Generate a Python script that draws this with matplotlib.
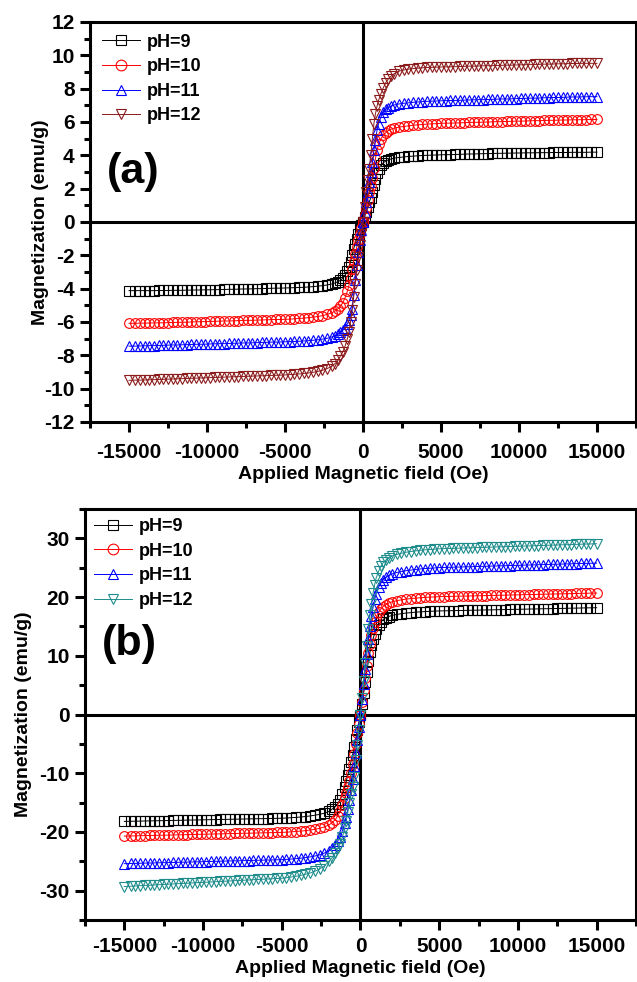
import matplotlib
matplotlib.use('Agg')
import matplotlib.pyplot as plt
from matplotlib.ticker import MultipleLocator

plt.rcParams['font.family'] = ['Liberation Sans', 'DejaVu Sans']
plt.rcParams['font.weight'] = 'bold'
plt.rcParams['axes.unicode_minus'] = False

# ---------------- data ----------------
LABELS = ['pH=9', 'pH=10', 'pH=11', 'pH=12']

H_POS = [0, 100, 200, 300, 400, 500, 600, 700, 800, 900, 1000, 1150, 1300, 1450, 1600,
         1800, 2000, 2300, 2600, 2900, 3200, 3500, 3800, 4100, 4400, 4700, 5000,
         5300, 5600, 5900, 6200, 6500, 6800, 7100, 7400, 7700, 8000, 8300, 8600, 8900,
         9200, 9500, 9800, 10100, 10400, 10700, 11000, 11300, 11600, 11900, 12200, 12500,
         12800, 13100, 13400, 13700, 14000, 14300, 14600, 15000]
H_NEG = [0, -100, -200, -300, -400, -500, -600, -700, -800, -900, -1000, -1150, -1300, -1450, -1600,
         -1800, -2000, -2300, -2600, -2900, -3200, -3500, -3800, -4100, -4400, -4700, -5000,
         -5300, -5600, -5900, -6200, -6500, -6800, -7100, -7400, -7700, -8000, -8300, -8600, -8900,
         -9200, -9500, -9800, -10100, -10400, -10700, -11000, -11300, -11600, -11900, -12200, -12500,
         -12800, -13100, -13400, -13700, -14000, -14300, -14600, -15000]

# panel (a) positive branch
A_PH9_POS = [0.0, 0.3, 0.6, 0.9, 1.2, 1.45, 1.8, 2.2, 2.6, 2.95, 3.2, 3.4, 3.55, 3.65, 3.72, 3.78, 3.83,
             3.87, 3.9, 3.93, 3.95, 3.97, 3.99, 4.0, 4.01, 4.02, 4.03,
             4.04, 4.04, 4.05, 4.06, 4.07, 4.08, 4.08, 4.09, 4.10, 4.10, 4.11, 4.12, 4.12, 4.13, 4.13,
             4.14, 4.14, 4.15, 4.15, 4.15, 4.16, 4.16, 4.16, 4.17, 4.17, 4.17, 4.17, 4.18, 4.18, 4.18,
             4.18, 4.19, 4.19]
A_PH10_POS = [0.0, 0.43, 0.86, 1.29, 1.78, 2.15, 2.64, 3.26, 3.81, 4.31, 4.67, 4.98, 5.23, 5.35, 5.47,
              5.57, 5.63, 5.69, 5.73, 5.77, 5.80, 5.83, 5.85, 5.87, 5.89, 5.90, 5.92,
              5.93, 5.93, 5.94, 5.95, 5.96, 5.97, 5.98, 5.98, 5.99, 6.00, 6.01, 6.02, 6.02, 6.03, 6.04,
              6.05, 6.05, 6.06, 6.07, 6.08, 6.08, 6.09, 6.10, 6.10, 6.11, 6.12, 6.12, 6.13, 6.13, 6.14,
              6.14, 6.15, 6.15]
A_PH11_POS = [0.0, 0.6, 1.2, 1.8, 2.4, 3.0, 3.6, 4.3, 4.9, 5.5, 5.9, 6.3, 6.6, 6.75, 6.85, 6.95, 7.02,
              7.08, 7.12, 7.15, 7.18, 7.2, 7.22, 7.24, 7.25, 7.26, 7.27,
              7.28, 7.29, 7.29, 7.30, 7.31, 7.32, 7.33, 7.34, 7.34, 7.35, 7.36, 7.37, 7.38, 7.38, 7.39,
              7.40, 7.41, 7.42, 7.43, 7.43, 7.44, 7.45, 7.46, 7.47, 7.47, 7.48, 7.49, 7.50, 7.50, 7.51,
              7.51, 7.52, 7.52]
A_PH12_POS = [0.0, 0.9, 1.8, 2.5, 3.2, 4.0, 5.0, 5.9, 6.5, 6.95, 7.3, 7.7, 8.05, 8.35, 8.55, 8.75, 8.9,
              9.05, 9.12, 9.17, 9.2, 9.23, 9.25, 9.27, 9.28, 9.29, 9.3,
              9.31, 9.31, 9.32, 9.33, 9.34, 9.35, 9.35, 9.36, 9.37, 9.38, 9.38, 9.39, 9.40, 9.41, 9.41,
              9.42, 9.43, 9.44, 9.44, 9.45, 9.46, 9.47, 9.47, 9.48, 9.49, 9.49, 9.50, 9.51, 9.51, 9.52,
              9.52, 9.52, 9.52]
# panel (a) negative branch
A_PH9_NEG = [0.0, -0.2, -0.45, -0.7, -1.0, -1.3, -1.6, -2.0, -2.4, -2.7, -2.95, -3.2, -3.38, -3.5, -3.58,
             -3.66, -3.72, -3.78, -3.82, -3.85, -3.88, -3.9, -3.92, -3.93, -3.94, -3.95, -3.96,
             -3.97, -3.97, -3.98, -3.99, -4.00, -4.00, -4.01, -4.02, -4.02, -4.03, -4.04, -4.04, -4.05,
             -4.06, -4.06, -4.07, -4.07, -4.08, -4.08, -4.09, -4.09, -4.10, -4.10, -4.10, -4.11, -4.11,
             -4.11, -4.12, -4.12, -4.12, -4.12, -4.12, -4.12]
A_PH10_NEG = [0.0, -0.35, -0.7, -1.1, -1.5, -1.9, -2.35, -2.85, -3.35, -3.8, -4.15, -4.55, -4.85, -5.05,
              -5.2, -5.35, -5.45, -5.55, -5.62, -5.67, -5.71, -5.74, -5.77, -5.79, -5.81, -5.83, -5.84,
              -5.85, -5.85, -5.86, -5.87, -5.88, -5.89, -5.90, -5.90, -5.91, -5.92, -5.93, -5.94, -5.94,
              -5.95, -5.96, -5.97, -5.98, -5.98, -5.99, -6.00, -6.01, -6.02, -6.02, -6.03, -6.04, -6.05,
              -6.05, -6.06, -6.06, -6.07, -6.07, -6.08, -6.08]
A_PH11_NEG = [0.0, -0.5, -1.1, -1.8, -2.6, -3.5, -4.4, -5.2, -5.6, -5.9, -6.1, -6.35, -6.5, -6.62, -6.72,
              -6.82, -6.9, -6.98, -7.03, -7.07, -7.1, -7.12, -7.14, -7.16, -7.17, -7.18, -7.19,
              -7.20, -7.21, -7.21, -7.22, -7.23, -7.24, -7.25, -7.26, -7.26, -7.27, -7.28, -7.29, -7.30,
              -7.30, -7.31, -7.32, -7.33, -7.34, -7.34, -7.35, -7.36, -7.37, -7.38, -7.38, -7.39, -7.40,
              -7.41, -7.42, -7.42, -7.43, -7.44, -7.45, -7.45]
A_PH12_NEG = [0.0, -0.7, -1.4, -2.1, -2.9, -3.7, -4.5, -5.3, -6.0, -6.6, -7.0, -7.45, -7.8, -8.05, -8.3,
              -8.5, -8.65, -8.8, -8.9, -8.97, -9.02, -9.06, -9.09, -9.12, -9.14, -9.16, -9.18,
              -9.19, -9.20, -9.21, -9.22, -9.23, -9.24, -9.25, -9.26, -9.27, -9.28, -9.29, -9.30, -9.31,
              -9.32, -9.33, -9.34, -9.35, -9.36, -9.37, -9.38, -9.39, -9.40, -9.41, -9.42, -9.43, -9.44,
              -9.45, -9.46, -9.47, -9.48, -9.49, -9.49, -9.50]

# panel (b) positive branch
B_PH9_POS = [0.0, 1.8, 3.6, 5.5, 7.3, 9.1, 10.6, 11.8, 12.9, 13.8, 14.6, 15.3, 15.8, 16.2, 16.5, 16.7,
             16.9, 17.05, 17.18, 17.29, 17.36, 17.44, 17.49, 17.54, 17.58, 17.62, 17.65,
             17.67, 17.68, 17.70, 17.72, 17.73, 17.75, 17.77, 17.78, 17.80, 17.82, 17.83, 17.85, 17.87,
             17.88, 17.90, 17.92, 17.93, 17.95, 17.97, 17.98, 18.00, 18.02, 18.03, 18.05, 18.07, 18.08,
             18.10, 18.12, 18.13, 18.15, 18.17, 18.18, 18.20]
B_PH10_POS = [0.0, 2.1, 4.1, 6.2, 8.3, 10.4, 12.0, 13.5, 14.7, 15.7, 16.6, 17.4, 18.0, 18.4, 18.7, 19.0,
              19.2, 19.4, 19.54, 19.67, 19.75, 19.83, 19.89, 19.95, 20.0, 20.04, 20.08,
              20.10, 20.12, 20.14, 20.16, 20.17, 20.19, 20.21, 20.23, 20.25, 20.27, 20.29, 20.30, 20.32,
              20.34, 20.36, 20.38, 20.40, 20.42, 20.43, 20.45, 20.47, 20.49, 20.51, 20.53, 20.55, 20.56,
              20.58, 20.60, 20.62, 20.64, 20.66, 20.68, 20.70]
B_PH11_POS = [0.0, 2.6, 5.2, 7.7, 10.3, 12.9, 15.0, 16.8, 18.3, 19.6, 20.6, 21.7, 22.4, 23.0, 23.35, 23.7,
              23.95, 24.2, 24.35, 24.5, 24.6, 24.7, 24.8, 24.87, 24.92, 24.97, 25.03,
              25.05, 25.08, 25.10, 25.12, 25.14, 25.17, 25.19, 25.21, 25.24, 25.26, 25.28, 25.31, 25.33,
              25.35, 25.38, 25.40, 25.42, 25.45, 25.47, 25.49, 25.52, 25.54, 25.56, 25.59, 25.61, 25.63,
              25.66, 25.68, 25.70, 25.73, 25.75, 25.77, 25.80]
B_PH12_POS = [0.0, 2.9, 5.8, 8.7, 11.6, 14.6, 16.9, 18.9, 20.7, 22.1, 23.3, 24.4, 25.3, 25.9, 26.3, 26.7,
              27.0, 27.27, 27.47, 27.65, 27.76, 27.88, 27.97, 28.05, 28.11, 28.17, 28.23,
              28.26, 28.28, 28.31, 28.33, 28.36, 28.39, 28.41, 28.44, 28.46, 28.49, 28.52, 28.54, 28.57,
              28.59, 28.62, 28.65, 28.67, 28.70, 28.72, 28.75, 28.78, 28.80, 28.83, 28.85, 28.88, 28.91,
              28.93, 28.96, 28.98, 29.01, 29.04, 29.06, 29.10]
# panel (b) negative branch
B_PH9_NEG = [0.0, -1.3, -2.7, -4.1, -5.5, -6.9, -8.0, -9.2, -10.3, -11.3, -12.4, -13.6, -14.5, -15.2,
             -15.7, -16.1, -16.5, -16.8, -17.0, -17.15, -17.27, -17.37, -17.45, -17.52, -17.57, -17.62,
             -17.66,
             -17.68, -17.69, -17.71, -17.73, -17.74, -17.76, -17.77, -17.79, -17.81, -17.82, -17.84,
             -17.86, -17.87, -17.89, -17.90, -17.92, -17.94, -17.95, -17.97, -17.98, -18.00, -18.02,
             -18.03, -18.05, -18.07, -18.08, -18.10, -18.11, -18.13, -18.15, -18.16, -18.18, -18.20]
B_PH10_NEG = [0.0, -1.6, -3.2, -5.0, -6.8, -8.4, -10.0, -11.3, -12.4, -13.4, -14.2, -15.4, -16.5, -17.3,
              -17.9, -18.4, -18.8, -19.15, -19.38, -19.55, -19.67, -19.77, -19.85, -19.92, -19.98,
              -20.03, -20.07,
              -20.09, -20.11, -20.13, -20.15, -20.17, -20.19, -20.21, -20.22, -20.24, -20.26, -20.28,
              -20.30, -20.32, -20.34, -20.36, -20.38, -20.39, -20.41, -20.43, -20.45, -20.47, -20.49,
              -20.51, -20.53, -20.55, -20.56, -20.58, -20.60, -20.62, -20.64, -20.66, -20.68, -20.70]
B_PH11_NEG = [0.0, -2.2, -4.4, -6.6, -8.8, -11.0, -12.9, -14.6, -16.1, -17.4, -18.5, -19.8, -20.8, -21.6,
              -22.2, -22.8, -23.2, -23.6, -23.9, -24.1, -24.25, -24.37, -24.47, -24.55, -24.62, -24.67,
              -24.72,
              -24.74, -24.76, -24.78, -24.80, -24.82, -24.84, -24.86, -24.88, -24.90, -24.92, -24.94,
              -24.96, -24.98, -25.00, -25.02, -25.04, -25.07, -25.09, -25.11, -25.13, -25.15, -25.17,
              -25.19, -25.21, -25.23, -25.25, -25.27, -25.29, -25.31, -25.33, -25.35, -25.37, -25.40]
B_PH12_NEG = [0.0, -2.6, -5.2, -7.8, -10.6, -12.3, -13.6, -15.0, -16.6, -18.1, -19.3, -20.9, -22.0, -22.8,
              -23.6, -24.4, -25.0, -25.8, -26.3, -26.7, -27.0, -27.2, -27.4, -27.55, -27.68, -27.78,
              -27.88,
              -27.92, -27.96, -28.01, -28.05, -28.09, -28.13, -28.18, -28.22, -28.26, -28.30, -28.35,
              -28.39, -28.43, -28.47, -28.52, -28.56, -28.60, -28.64, -28.69, -28.73, -28.77, -28.81,
              -28.86, -28.90, -28.94, -28.98, -29.03, -29.07, -29.11, -29.15, -29.20, -29.24, -29.30]

PANEL_A = [(A_PH9_NEG, A_PH9_POS), (A_PH10_NEG, A_PH10_POS), (A_PH11_NEG, A_PH11_POS), (A_PH12_NEG, A_PH12_POS)]
PANEL_B = [(B_PH9_NEG, B_PH9_POS), (B_PH10_NEG, B_PH10_POS), (B_PH11_NEG, B_PH11_POS), (B_PH12_NEG, B_PH12_POS)]

MARKERS = ['s', 'o', '^', 'v']
COLORS_A = ['#000000', '#FF0000', '#0000FF', '#8B1A1A']
COLORS_B = ['#000000', '#FF0000', '#0000FF', '#1F8C8C']

for neg, pos in PANEL_A + PANEL_B:
    assert len(neg) == len(H_NEG) and len(pos) == len(H_POS), (len(neg), len(pos))

# ---------------- figure ----------------
fig = plt.figure(figsize=(6.37, 9.82), dpi=100)
ax1 = fig.add_axes([0.1413, 0.5703, 0.8571, 0.4073])
ax2 = fig.add_axes([0.1334, 0.0631, 0.865, 0.4185])

LW = 2.2


def draw(ax, panel, colors, ylim, ymaj, ymin, tag, tag_xy, label_x, label_y, leg_pad, xpad):
    for (neg, pos), lab, mk, col in zip(panel, LABELS, MARKERS, colors):
        x = list(reversed(H_NEG)) + H_POS
        y = list(reversed(neg)) + pos
        ax.plot(x, y, marker=mk, ms=7 if mk != 's' else 6.5, mfc='none', mec=col, mew=0.8,
                color=col, lw=0.7, label=lab, zorder=3)
    ax.axhline(0, color='black', lw=LW, zorder=2)
    ax.axvline(0, color='black', lw=LW, zorder=2)
    ax.set_xlim(-17500, 17500)
    ax.set_ylim(*ylim)
    ax.xaxis.set_major_locator(MultipleLocator(5000))
    ax.xaxis.set_minor_locator(MultipleLocator(2500))
    ax.yaxis.set_major_locator(MultipleLocator(ymaj))
    ax.yaxis.set_minor_locator(MultipleLocator(ymin))
    for s in ax.spines.values():
        s.set_linewidth(LW)
    ax.tick_params(which='major', direction='out', length=7, width=LW, labelsize=15, pad=4)
    ax.tick_params(axis='x', which='major', pad=xpad)
    ax.tick_params(which='minor', direction='out', length=4, width=LW)
    ax.set_xlabel('Applied Magnetic field (Oe)', fontsize=14, fontweight='bold')
    ax.set_ylabel('Magnetization (emu/g)', fontsize=14, fontweight='bold')
    ax.xaxis.set_label_coords(0.5, label_x)
    ax.yaxis.set_label_coords(label_y, 0.5)
    ax.text(tag_xy[0], tag_xy[1], tag, fontsize=31, fontweight='bold', ha='left', va='center')
    leg = ax.legend(loc='upper left', bbox_to_anchor=(0.0, 1.0), frameon=False, fontsize=13,
                    handlelength=2.1, handletextpad=0.4, labelspacing=0.42,
                    borderaxespad=leg_pad, borderpad=0.2, numpoints=1, markerscale=1.1)
    return leg


draw(ax1, PANEL_A, COLORS_A, (-12, 12), 2, 1, '(a)', (-16400, 3.0), -0.11, -0.075, 0.45, 8)
draw(ax2, PANEL_B, COLORS_B, (-35, 35), 10, 5, '(b)', (-16400, 12.1), -0.0965, -0.097, 0.3, 5)

fig.savefig('out.png', dpi=100)
